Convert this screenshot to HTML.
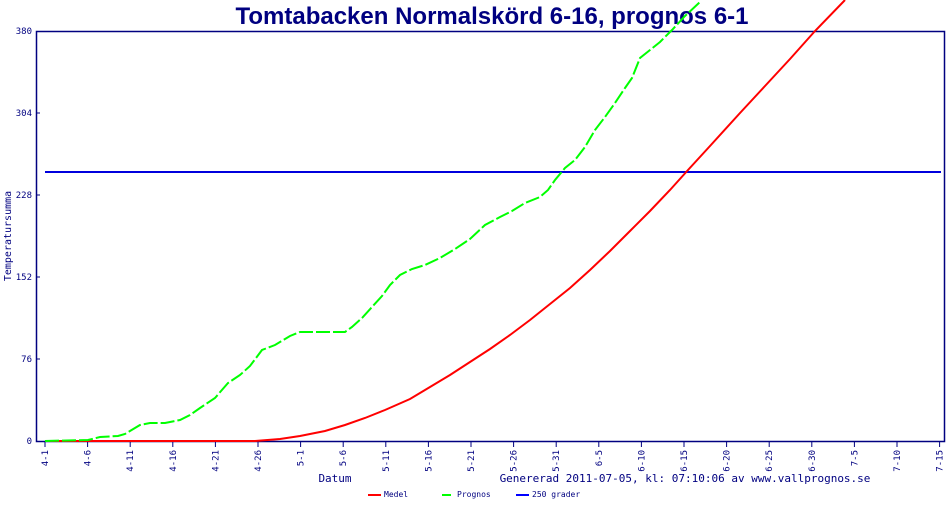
<!DOCTYPE html>
<html><head><style>
body{margin:0;background:#fff;}
svg text{font-family:"DejaVu Sans Mono","Liberation Mono",monospace;fill:#000080;}
</style></head><body>
<svg width="950" height="500" xmlns="http://www.w3.org/2000/svg">
<rect width="950" height="500" fill="#fff"/>
<text x="492" y="24" text-anchor="middle" style="font-family:'Liberation Sans',sans-serif;font-weight:bold;font-size:24px;fill:#000080">Tomtabacken Normalskörd 6-16, prognos 6-1</text>
<rect x="36.5" y="31.5" width="908" height="410" fill="none" stroke="#000080" stroke-width="1.5"/>
<g font-size="9">
<text x="32" y="34" text-anchor="end">380</text>
<text x="32" y="116" text-anchor="end">304</text>
<text x="32" y="198" text-anchor="end">228</text>
<text x="32" y="280" text-anchor="end">152</text>
<text x="32" y="362" text-anchor="end">76</text>
<text x="32" y="444" text-anchor="end">0</text>
</g>
<g stroke="#000080" stroke-width="1">
<line x1="36" y1="113" x2="40" y2="113"/><line x1="36" y1="195" x2="40" y2="195"/><line x1="36" y1="277" x2="40" y2="277"/><line x1="36" y1="359" x2="40" y2="359"/>
</g>
<text transform="translate(11,236) rotate(-90)" text-anchor="middle" font-size="10">Temperatursumma</text>
<g stroke="#000080" stroke-width="1">
<line x1="45" y1="442" x2="45" y2="447"/><line x1="87.6" y1="442" x2="87.6" y2="447"/><line x1="130.2" y1="442" x2="130.2" y2="447"/><line x1="172.8" y1="442" x2="172.8" y2="447"/><line x1="215.4" y1="442" x2="215.4" y2="447"/><line x1="258" y1="442" x2="258" y2="447"/><line x1="300.6" y1="442" x2="300.6" y2="447"/><line x1="343.2" y1="442" x2="343.2" y2="447"/><line x1="385.8" y1="442" x2="385.8" y2="447"/><line x1="428.4" y1="442" x2="428.4" y2="447"/><line x1="471" y1="442" x2="471" y2="447"/><line x1="513.6" y1="442" x2="513.6" y2="447"/><line x1="556.2" y1="442" x2="556.2" y2="447"/><line x1="598.8" y1="442" x2="598.8" y2="447"/><line x1="641.4" y1="442" x2="641.4" y2="447"/><line x1="684" y1="442" x2="684" y2="447"/><line x1="726.6" y1="442" x2="726.6" y2="447"/><line x1="769.2" y1="442" x2="769.2" y2="447"/><line x1="811.8" y1="442" x2="811.8" y2="447"/><line x1="854.4" y1="442" x2="854.4" y2="447"/><line x1="897" y1="442" x2="897" y2="447"/><line x1="939.6" y1="442" x2="939.6" y2="447"/>
</g>
<g font-size="9" text-anchor="end">
<text transform="translate(48,450) rotate(-90)">4-1</text>
<text transform="translate(90.6,450) rotate(-90)">4-6</text>
<text transform="translate(133.2,450) rotate(-90)">4-11</text>
<text transform="translate(175.8,450) rotate(-90)">4-16</text>
<text transform="translate(218.4,450) rotate(-90)">4-21</text>
<text transform="translate(261,450) rotate(-90)">4-26</text>
<text transform="translate(303.6,450) rotate(-90)">5-1</text>
<text transform="translate(346.2,450) rotate(-90)">5-6</text>
<text transform="translate(388.8,450) rotate(-90)">5-11</text>
<text transform="translate(431.4,450) rotate(-90)">5-16</text>
<text transform="translate(474,450) rotate(-90)">5-21</text>
<text transform="translate(516.6,450) rotate(-90)">5-26</text>
<text transform="translate(559.2,450) rotate(-90)">5-31</text>
<text transform="translate(601.8,450) rotate(-90)">6-5</text>
<text transform="translate(644.4,450) rotate(-90)">6-10</text>
<text transform="translate(687,450) rotate(-90)">6-15</text>
<text transform="translate(729.6,450) rotate(-90)">6-20</text>
<text transform="translate(772.2,450) rotate(-90)">6-25</text>
<text transform="translate(814.8,450) rotate(-90)">6-30</text>
<text transform="translate(857.4,450) rotate(-90)">7-5</text>
<text transform="translate(900,450) rotate(-90)">7-10</text>
<text transform="translate(942.6,450) rotate(-90)">7-15</text>
</g>
<text x="335" y="482" text-anchor="middle" font-size="11">Datum</text>
<text x="685" y="482" text-anchor="middle" font-size="11">Genererad 2011-07-05, kl: 07:10:06 av www.vallprognos.se</text>
<g font-size="8">
<line x1="368" y1="495" x2="381" y2="495" stroke="#f00" stroke-width="2"/><text x="384" y="497">Medel</text>
<line x1="442" y1="495" x2="451" y2="495" stroke="#0f0" stroke-width="2"/><text x="457" y="497">Prognos</text>
<line x1="516" y1="495" x2="529" y2="495" stroke="#00f" stroke-width="2"/><text x="532" y="497">250 grader</text>
</g>
<line x1="45" y1="172" x2="941" y2="172" stroke="#0000dd" stroke-width="2"/>
<polyline fill="none" stroke="#f00" stroke-width="2" points="45,441 255,441 280,439 300,436 325,431 345,425 365,418 385,410 410,399 430,387 450,375 470,362 490,349 510,335 530,320 550,304 570,288 590,270 610,251 630,231 650,211 670,190 688,170 710,146 740,113 765,86 790,59 815,31 845,0"/>
<polyline fill="none" stroke="#0f0" stroke-width="2" stroke-dasharray="14,3" points="45,441 88,440 100,437 118,436 125,434 140,425 150,423 165,423 180,420 190,415 200,408 215,398 228,383 240,375 250,366 262,350 275,345 290,336 300,332 345,332 352,327 362,318 372,307 382,296 390,285 400,275 412,269 425,265 440,258 455,249 470,239 485,225 500,217 512,211 525,203 540,197 548,190 555,180 565,168 575,160 585,147 595,130 605,117 615,103 625,88 632,78 640,58 650,50 660,42 672,30 685,16 700,2"/>
</svg>
</body></html>
